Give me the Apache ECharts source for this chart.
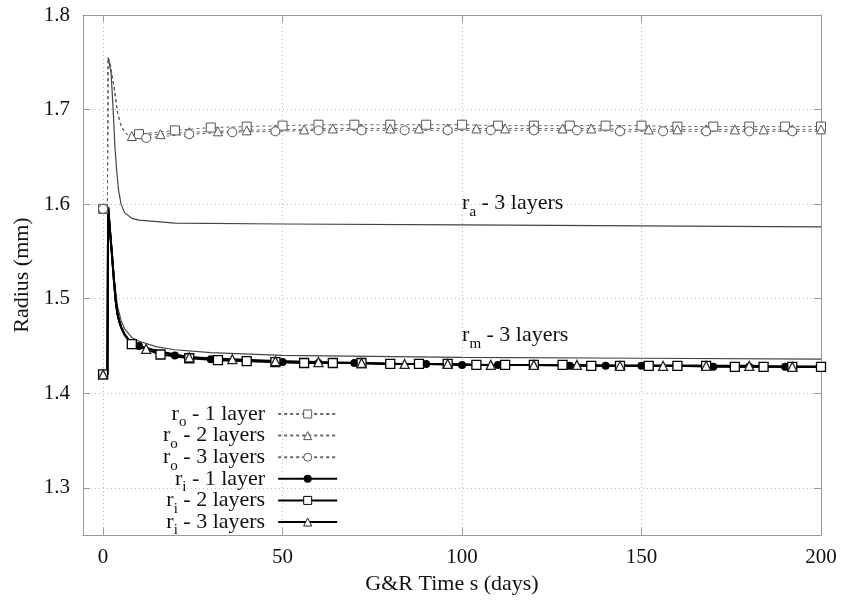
<!DOCTYPE html>
<html><head><meta charset="utf-8">
<script src="https://cdn.jsdelivr.net/npm/echarts@6/dist/echarts.min.js"></script>
<style>html,body{margin:0;padding:0;background:#fff}#c{width:843px;height:600px}</style>
</head><body><div id="c"></div><script>
// ---- data ----
const xTicks = [0, 50, 100, 150, 200];
const yTicks = [1.3, 1.4, 1.5, 1.6, 1.7, 1.8];
const xName = 'G&R Time s (days)';
const yName = 'Radius (mm)';

const legendNames = ['r_o - 1 layer', 'r_o - 2 layers', 'r_o - 3 layers', 'r_i - 1 layer', 'r_i - 2 layers', 'r_i - 3 layers'];

const roT1 = [0, 1.2, 1.4, 2, 3, 4, 5, 6, 7, 8, 10, 20, 30, 40, 50, 60, 70, 80, 90, 100, 110, 120, 130, 140, 150, 160, 170, 180, 190, 200];
const roV1 = [1.595, 1.595, 1.755, 1.748, 1.725, 1.697, 1.683, 1.676, 1.673, 1.672, 1.674, 1.678, 1.681, 1.682, 1.683, 1.684, 1.684, 1.684, 1.684, 1.684, 1.683, 1.683, 1.683, 1.683, 1.683, 1.682, 1.682, 1.682, 1.682, 1.682];

const roT2 = [0, 1.2, 1.4, 2, 3, 4, 5, 6, 7, 8, 16, 24, 32, 40, 48, 56, 64, 72, 80, 88, 96, 104, 112, 120, 128, 136, 144, 152, 160, 168, 176, 184, 192, 200];
const roV2 = [1.595, 1.595, 1.755, 1.748, 1.725, 1.697, 1.683, 1.676, 1.673, 1.672, 1.674, 1.676, 1.677, 1.678, 1.679, 1.679, 1.680, 1.680, 1.680, 1.680, 1.680, 1.680, 1.680, 1.680, 1.680, 1.680, 1.679, 1.679, 1.679, 1.679, 1.679, 1.679, 1.679, 1.679];

const roT3 = [0, 1.2, 1.4, 2, 3, 4, 5, 6, 7, 8, 10, 12, 24, 36, 48, 60, 72, 84, 96, 108, 120, 132, 144, 156, 168, 180, 192, 200];
const roV3 = [1.595, 1.595, 1.755, 1.748, 1.725, 1.697, 1.683, 1.676, 1.673, 1.671, 1.670, 1.670, 1.674, 1.676, 1.677, 1.678, 1.678, 1.678, 1.678, 1.678, 1.678, 1.678, 1.677, 1.677, 1.677, 1.677, 1.677, 1.677];

const riT1 = [0, 1.2, 1.4, 2, 2.5, 3, 3.5, 4, 4.5, 5, 6, 7, 8, 10, 20, 30, 40, 50, 60, 70, 80, 90, 100, 110, 120, 130, 140, 150, 160, 170, 180, 190, 200];
const riV1 = [1.42, 1.42, 1.597, 1.568, 1.545, 1.52, 1.498, 1.484, 1.476, 1.47, 1.462, 1.457, 1.453, 1.45, 1.44, 1.436, 1.434, 1.433, 1.432, 1.432, 1.431, 1.431, 1.43, 1.43, 1.43, 1.429, 1.429, 1.429, 1.429, 1.428, 1.428, 1.428, 1.428];

const riT2 = [0, 1.2, 1.4, 2, 2.5, 3, 3.5, 4, 4.5, 5, 6, 7, 8, 16, 24, 32, 40, 48, 56, 64, 72, 80, 88, 96, 104, 112, 120, 128, 136, 144, 152, 160, 168, 176, 184, 192, 200];
const riV2 = [1.42, 1.42, 1.597, 1.568, 1.545, 1.52, 1.498, 1.484, 1.476, 1.47, 1.462, 1.457, 1.452, 1.441, 1.437, 1.435, 1.434, 1.433, 1.432, 1.432, 1.432, 1.431, 1.431, 1.431, 1.43, 1.43, 1.43, 1.43, 1.429, 1.429, 1.429, 1.429, 1.429, 1.428, 1.428, 1.428, 1.428];

const riT3 = [0, 1.2, 1.4, 2, 2.5, 3, 3.5, 4, 4.5, 5, 6, 7, 8, 10, 12, 24, 36, 48, 60, 72, 84, 96, 108, 120, 132, 144, 156, 168, 180, 192, 200];
const riV3 = [1.42, 1.42, 1.597, 1.568, 1.545, 1.52, 1.498, 1.484, 1.476, 1.47, 1.462, 1.457, 1.453, 1.45, 1.447, 1.438, 1.436, 1.434, 1.433, 1.432, 1.431, 1.431, 1.43, 1.43, 1.43, 1.429, 1.429, 1.429, 1.429, 1.428, 1.428];

const raT = [1.4, 2.2, 2.8, 3.3, 3.8, 4.3, 5, 6, 8, 10, 20, 50, 100, 150, 200];
const raV = [1.755, 1.74, 1.70, 1.66, 1.635, 1.615, 1.60, 1.591, 1.585, 1.583, 1.58, 1.579, 1.578, 1.577, 1.576];

const rmT = [1.4, 2, 3, 4, 5, 6, 8, 10, 15, 20, 30, 50, 75, 100, 150, 200];
const rmV = [1.597, 1.572, 1.525, 1.492, 1.477, 1.468, 1.459, 1.455, 1.449, 1.446, 1.443, 1.44, 1.439, 1.438, 1.437, 1.436];

const annotations = [
  { main: 'r', sub: 'a', rest: ' - 3 layers', t: 100, r: 1.601 },
  { main: 'r', sub: 'm', rest: ' - 3 layers', t: 100, r: 1.461 }
];

// ---- styling / build ----
const FONT = 'Liberation Serif';
const zip = (t, v) => t.map((x, i) => [x, v[i]]);
const richStyles = {
  n: { fontSize: 22, fontFamily: FONT, color: '#111', lineHeight: 22 },
  s: { fontSize: 15, fontFamily: FONT, color: '#111', lineHeight: 5, verticalAlign: 'bottom', padding: [0, 0, -5, 0] },
  g: { width: 8, fontSize: 10 }
};
function richName(name) {
  const m = name.match(/^r_(\w)(.*)$/);
  return '{n|r}{s|' + m[1] + '}{n|' + m[2] + '}{g| }';
}

function mkSeries(name, t, v, step, symbol, lineStyle, itemStyle, size) {
  return {
    name, type: 'line', data: zip(t, v), symbol,
    symbolSize: (val) => (val[0] % step === 0 ? size : 0),
    showAllSymbol: true, lineStyle, itemStyle, smooth: false,
    emphasis: { disabled: true }, animation: false
  };
}
const roLine = { color: '#666', width: 1, type: [3, 3] };
const roItem = { color: '#fff', borderColor: '#555', borderWidth: 1 };
const riLine = { color: '#000', width: 2 };

function annot(a) {
  return {
    silent: true, symbol: 'circle', symbolSize: 0, animation: false,
    data: [{ coord: [a.t, a.r] }],
    label: { show: true, position: 'right', distance: 0,
      formatter: '{n|' + a.main + '}{s|' + a.sub + '}{n|' + a.rest + '}',
      rich: richStyles }
  };
}

const series = [
  mkSeries(legendNames[0], roT1, roV1, 10, 'rect', roLine, roItem, 9),
  mkSeries(legendNames[1], roT2, roV2, 8, 'triangle', roLine, roItem, 9),
  mkSeries(legendNames[2], roT3, roV3, 12, 'circle', roLine, roItem, 9),
  {
    name: 'r_a', type: 'line', data: zip(raT, raV), symbol: 'none',
    lineStyle: { color: '#444', width: 1.2 }, animation: false,
    markPoint: annot(annotations[0])
  },
  {
    name: 'r_m', type: 'line', data: zip(rmT, rmV), symbol: 'none',
    lineStyle: { color: '#444', width: 1.2 }, animation: false,
    markPoint: annot(annotations[1])
  },
  mkSeries(legendNames[3], riT1, riV1, 10, 'circle', riLine, { color: '#000' }, 8),
  mkSeries(legendNames[4], riT2, riV2, 8, 'rect', riLine, { color: '#fff', borderColor: '#000', borderWidth: 1.3 }, 9),
  mkSeries(legendNames[5], riT3, riV3, 12, 'triangle', riLine, { color: '#fff', borderColor: '#222', borderWidth: 1.3 }, 9)
];

const axisColor = '#999';
const gridColor = '#bbb';
const XMIN = -5.6, XMAX = 200, YMIN = 1.25, YMAX = 1.8;

const chart = echarts.init(document.getElementById('c'), null, { renderer: 'canvas' });
chart.setOption({
  backgroundColor: '#fff',
  animation: false,
  grid: { left: 83, right: 22, top: 15, bottom: 59, containLabel: false },
  legend: {
    data: legendNames, orient: 'vertical', align: 'right',
    left: 163, top: 403, padding: 0,
    itemWidth: 59, itemHeight: 10, itemGap: -5.4,
    selectedMode: false,
    formatter: richName,
    textStyle: { rich: richStyles },
    itemStyle: { borderWidth: 1 }
  },
  xAxis: [{
    type: 'value', min: XMIN, max: XMAX, position: 'bottom',
    name: xName, nameLocation: 'middle', nameGap: 31,
    nameTextStyle: { fontSize: 22, fontFamily: FONT, color: '#111' },
    axisLine: { show: true, onZero: false, lineStyle: { color: axisColor, width: 1 } },
    axisTick: { show: true, inside: true, length: 7, customValues: xTicks, lineStyle: { color: axisColor } },
    axisLabel: { customValues: xTicks, fontSize: 21, fontFamily: FONT, color: '#111', margin: 12 },
    splitLine: { show: true, lineStyle: { color: gridColor, type: [1, 3], width: 1 } }
  }, {
    type: 'value', min: XMIN, max: XMAX, position: 'top',
    axisLine: { show: true, onZero: false, lineStyle: { color: axisColor, width: 1 } },
    axisTick: { show: true, inside: true, length: 7, customValues: xTicks, lineStyle: { color: axisColor } },
    axisLabel: { show: false },
    splitLine: { show: false }
  }],
  yAxis: [{
    type: 'value', min: YMIN, max: YMAX, position: 'left',
    name: yName, nameLocation: 'middle', nameGap: 49,
    nameTextStyle: { fontSize: 22, fontFamily: FONT, color: '#111' },
    axisLine: { show: true, onZero: false, lineStyle: { color: axisColor, width: 1 } },
    axisTick: { show: true, inside: true, length: 7, customValues: yTicks, lineStyle: { color: axisColor } },
    axisLabel: { customValues: yTicks, fontSize: 21, fontFamily: FONT, color: '#111', margin: 13,
      formatter: (v) => v.toFixed(1) },
    splitLine: { show: true, lineStyle: { color: gridColor, type: [1, 3], width: 1 } }
  }, {
    type: 'value', min: YMIN, max: YMAX, position: 'right',
    axisLine: { show: true, onZero: false, lineStyle: { color: axisColor, width: 1 } },
    axisTick: { show: true, inside: true, length: 7, customValues: yTicks, lineStyle: { color: axisColor } },
    axisLabel: { show: false },
    splitLine: { show: false }
  }],
  series
});
</script></body></html>
